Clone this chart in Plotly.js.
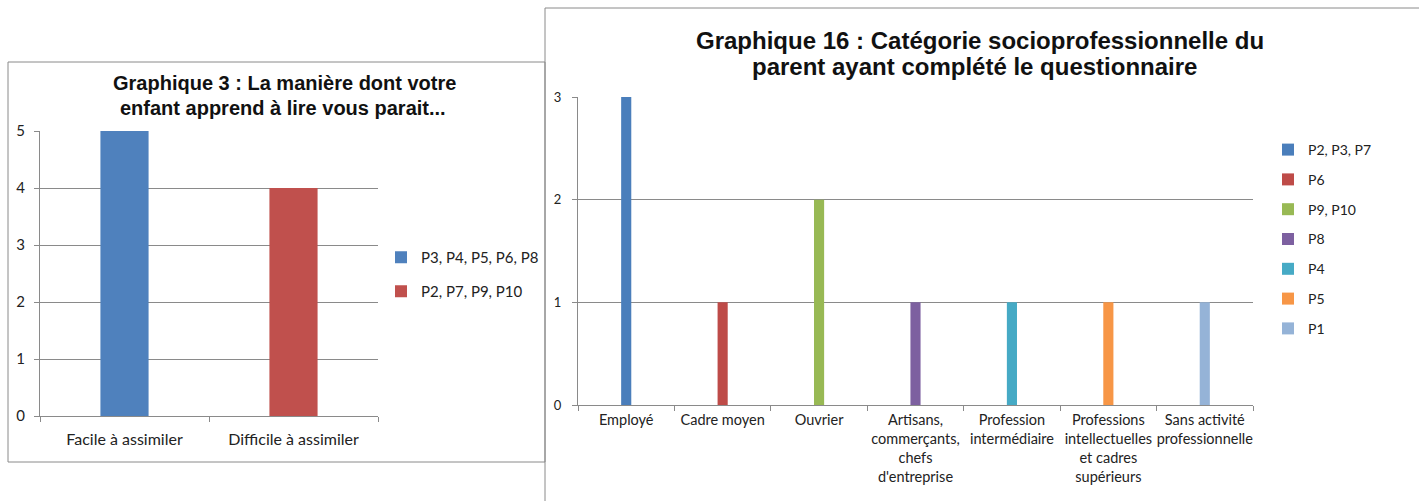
<!DOCTYPE html>
<html>
<head>
<meta charset="utf-8">
<script src="https://cdn.plot.ly/plotly-3.0.1.min.js"></script>
<style>html,body{margin:0;padding:0;background:#fff;}#chart{width:1419px;height:501px;}</style>
</head>
<body>
<div id="chart"></div>
<script>
// ---- Chart 1 data ----
const cats1 = ["Facile à assimiler", "Difficile à assimiler"];
const series1 = ["P3, P4, P5, P6, P8", "P2, P7, P9, P10"];
const values1 = [5, 4];
const colors1 = ["#4F81BD", "#C0504D"];
const title1 = ["Graphique 3 : La manière dont votre", "enfant apprend à lire vous parait..."];

// ---- Chart 2 data ----
const cats2 = ["Employé", "Cadre moyen", "Ouvrier", "Artisans,<br>commerçants,<br>chefs<br>d'entreprise",
  "Profession<br>intermédiaire", "Professions<br>intellectuelles<br>et cadres<br>supérieurs", "Sans activité<br>professionnelle"];
const series2 = ["P2, P3, P7", "P6", "P9, P10", "P8", "P4", "P5", "P1"];
const values2 = [3, 1, 2, 1, 1, 1, 1];
const colors2 = ["#4A7EBB", "#BE4B48", "#98B954", "#7D60A0", "#46AAC5", "#F79646", "#95B3D7"];
const title2 = ["Graphique 16 : Catégorie socioprofessionnelle du", "parent ayant complété le questionnaire"];

const W = 1419, H = 501;
const px = v => v / W;
const py = v => 1 - v / H;

const traces = [];
series1.forEach((s, i) => {
  traces.push({type: 'bar', x: [cats1[i]], y: [values1[i]], name: s, width: 0.285,
    marker: {color: colors1[i]}, xaxis: 'x', yaxis: 'y', legend: 'legend', legendgroup: 'a' + i,
    hoverinfo: 'none'});
});
series2.forEach((s, i) => {
  traces.push({type: 'bar', x: [cats2[i]], y: [values2[i]], name: s, width: 0.105,
    marker: {color: colors2[i]}, xaxis: 'x2', yaxis: 'y2', legend: 'legend2', legendgroup: 'b' + i,
    hoverinfo: 'none'});
});

const gray = '#8a8a8a';
const fam = 'Lato, "Open Sans", sans-serif';
const txt = '#222';
const titleFont = {family: '"Liberation Sans", Arial, sans-serif', color: '#111'};

const layout = {
  width: W, height: H,
  margin: {l: 0, r: 0, t: 0, b: 0},
  paper_bgcolor: '#fff', plot_bgcolor: 'rgba(0,0,0,0)',
  barmode: 'overlay',
  showlegend: true,
  font: {family: fam, size: 14, color: txt},
  xaxis: {domain: [px(40), px(378)], anchor: 'y', type: 'category', categoryorder: 'array', categoryarray: cats1,
    showline: true, linecolor: gray, ticks: 'outside', tickson: 'boundaries', ticklen: 5, tickcolor: gray,
    showgrid: false, tickangle: 0, tickfont: {family: fam, size: 16, color: txt}, ticklabelstandoff: 9},
  yaxis: {domain: [py(416), py(131)], anchor: 'x', range: [0, 5], dtick: 1, showgrid: true, gridcolor: gray,
    showline: true, linecolor: gray, ticks: 'outside', ticklen: 5, tickcolor: gray, zeroline: false,
    tickfont: {family: fam, size: 15, color: txt}, ticklabelstandoff: 6},
  xaxis2: {domain: [px(578), px(1253)], anchor: 'y2', type: 'category', categoryorder: 'array', categoryarray: cats2,
    showline: true, linecolor: gray, ticks: 'outside', tickson: 'boundaries', ticklen: 5, tickcolor: gray,
    showgrid: false, tickangle: 0, tickfont: {family: fam, size: 14.5, color: txt}, ticklabelstandoff: 2},
  yaxis2: {domain: [py(405), py(97)], anchor: 'x2', range: [0, 3], dtick: 1, showgrid: true, gridcolor: gray,
    showline: true, linecolor: gray, ticks: 'outside', ticklen: 5, tickcolor: gray, zeroline: false,
    tickfont: {family: fam, size: 13, color: txt}, ticklabelstandoff: 8},
  legend: {x: px(381), y: py(241), xanchor: 'left', yanchor: 'top', bgcolor: 'rgba(0,0,0,0)',
    font: {family: fam, size: 15, color: txt}, tracegroupgap: 11.5, itemclick: false},
  legend2: {x: px(1268), y: py(134), xanchor: 'left', yanchor: 'top', bgcolor: 'rgba(0,0,0,0)',
    font: {family: fam, size: 14, color: txt}, tracegroupgap: 8.6, itemclick: false},
  annotations: [
    {text: '<b>' + title1[0] + '</b>', xref: 'paper', yref: 'paper', x: px(284), y: py(83), xanchor: 'center', yanchor: 'middle', showarrow: false,
      font: Object.assign({size: 20}, titleFont)},
    {text: '<b>' + title1[1] + '</b>', xref: 'paper', yref: 'paper', x: px(283), y: py(108), xanchor: 'center', yanchor: 'middle', showarrow: false,
      font: Object.assign({size: 20}, titleFont)},
    {text: '<b>' + title2[0] + '</b>', xref: 'paper', yref: 'paper', x: px(980), y: py(40), xanchor: 'center', yanchor: 'middle', showarrow: false,
      font: Object.assign({size: 24}, titleFont)},
    {text: '<b>' + title2[1] + '</b>', xref: 'paper', yref: 'paper', x: px(974), y: py(66), xanchor: 'center', yanchor: 'middle', showarrow: false,
      font: Object.assign({size: 24}, titleFont)}
  ],
  shapes: [
    {type: 'rect', xref: 'paper', yref: 'paper', x0: px(8), x1: px(545), y0: py(462), y1: py(62),
      line: {color: gray, width: 1}, layer: 'below'},
    {type: 'rect', xref: 'paper', yref: 'paper', x0: px(545), x1: 1.02, y0: -0.02, y1: py(8),
      line: {color: gray, width: 1}, layer: 'below'}
  ]
};

Plotly.newPlot('chart', traces, layout, {staticPlot: true, displayModeBar: false});
</script>
</body>
</html>
